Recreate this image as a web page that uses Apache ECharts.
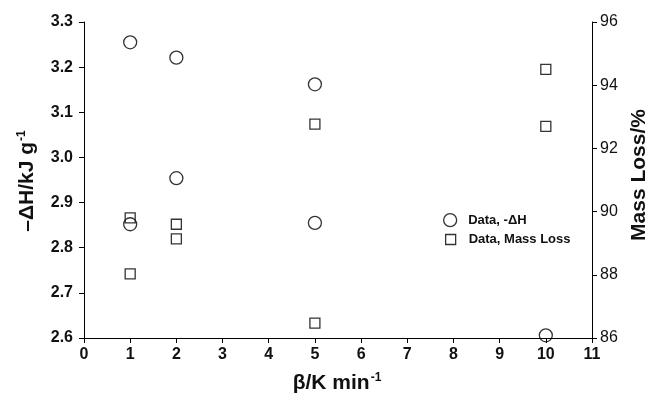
<!DOCTYPE html>
<html>
<head>
<meta charset="utf-8">
<script src="https://cdn.jsdelivr.net/npm/echarts@6/dist/echarts.min.js"></script>
<style>
  html, body { margin: 0; padding: 0; background: #fff; }
  #chart { width: 648px; height: 397px; }
</style>
</head>
<body>
<div id="chart"></div>
<script>
// Heating rate (K/min) for each measurement
const rateDH = [1, 1, 2, 2, 5, 5, 10];
// Enthalpy, -ΔH in kJ/g
const enthalpy = [3.255, 2.852, 3.221, 2.954, 3.162, 2.855, 2.606];

const rateML = [1, 1, 2, 2, 5, 5, 10, 10];
// Mass loss in %
const massLoss = [89.8, 88.03, 89.6, 89.14, 92.77, 86.47, 94.5, 92.7];

const xTicks = { min: 0, max: 11, step: 1 };
const leftTicks = { min: 2.6, max: 3.3, step: 0.1 };
const rightTicks = { min: 86, max: 96, step: 2 };

const FONT = '"Liberation Sans", Arial, sans-serif';
const boldLabel = { fontFamily: FONT, fontWeight: 'bold', fontSize: 16, color: '#111' };
const plainLabel = { fontFamily: FONT, fontWeight: 'normal', fontSize: 16, color: '#111' };
const axisLine = { show: true, lineStyle: { color: '#000', width: 1 } };
const axisTick = { show: true, length: 5, inside: false, lineStyle: { color: '#000', width: 1 } };
const markStyle = { color: 'rgba(0,0,0,0)', borderColor: '#000', borderWidth: 1.3 };
const legendText = { fontFamily: FONT, fontWeight: 'bold', fontSize: 13, color: '#111' };
const titleRich = {
  b: { fontFamily: FONT, fontWeight: 'bold', fontSize: 21, fill: '#111', color: '#111' },
  s: { fontFamily: FONT, fontWeight: 'bold', fontSize: 12, fill: '#111', color: '#111', padding: [0, 0, 11, 1] }
};

const chart = echarts.init(document.getElementById('chart'), null, { renderer: 'canvas' });

chart.setOption({
  animation: false,
  backgroundColor: '#fff',
  grid: { left: 84, right: 56, top: 22, bottom: 59, containLabel: false },
  xAxis: {
    type: 'value',
    min: xTicks.min, max: xTicks.max, interval: xTicks.step,
    axisLine: axisLine, axisTick: axisTick,
    splitLine: { show: false },
    axisLabel: Object.assign({ margin: 9 }, boldLabel)
  },
  yAxis: [
    {
      type: 'value',
      min: leftTicks.min, max: leftTicks.max, interval: leftTicks.step,
      axisLine: axisLine, axisTick: axisTick,
      splitLine: { show: false },
      axisLabel: Object.assign({ margin: 11, formatter: v => v.toFixed(1) }, boldLabel)
    },
    {
      type: 'value', position: 'right',
      min: rightTicks.min, max: rightTicks.max, interval: rightTicks.step,
      axisLine: axisLine, axisTick: axisTick,
      splitLine: { show: false },
      axisLabel: Object.assign({ margin: 8 }, plainLabel)
    }
  ],
  legend: [
    {
      orient: 'vertical', left: 438, top: 208,
      itemWidth: 14, itemHeight: 13,
      textStyle: Object.assign({ padding: [0, 0, 0, 6] }, legendText),
      data: [{ name: 'Data, -ΔH', icon: 'circle', itemStyle: markStyle }]
    },
    {
      orient: 'vertical', left: 440, top: 228,
      itemWidth: 10, itemHeight: 10,
      textStyle: Object.assign({ padding: [0, 0, 0, 8] }, legendText),
      data: [{ name: 'Data, Mass Loss', icon: 'rect', itemStyle: markStyle }]
    }
  ],
  graphic: [
    {
      type: 'text', x: 337, y: 383,
      style: { text: '{b|β/K min}{s|-1}', align: 'center', verticalAlign: 'middle', rich: titleRich }
    },
    {
      type: 'text', x: 27, y: 181, rotation: Math.PI / 2,
      style: { text: '{b|–ΔH/kJ g}{s|-1}', align: 'center', verticalAlign: 'middle', rich: titleRich }
    },
    {
      type: 'text', x: 639, y: 175, rotation: Math.PI / 2,
      style: {
        text: 'Mass Loss/%', align: 'center', verticalAlign: 'middle',
        fontFamily: FONT, fontWeight: 'bold', fontSize: 21, fill: '#111'
      }
    }
  ],
  series: [
    {
      name: 'Data, -ΔH', type: 'scatter', yAxisIndex: 0,
      symbol: 'circle', symbolSize: 13,
      itemStyle: markStyle,
      data: rateDH.map((x, i) => [x, enthalpy[i]])
    },
    {
      name: 'Data, Mass Loss', type: 'scatter', yAxisIndex: 1,
      symbol: 'rect', symbolSize: 10,
      itemStyle: markStyle,
      data: rateML.map((x, i) => [x, massLoss[i]])
    }
  ]
});
</script>
</body>
</html>
